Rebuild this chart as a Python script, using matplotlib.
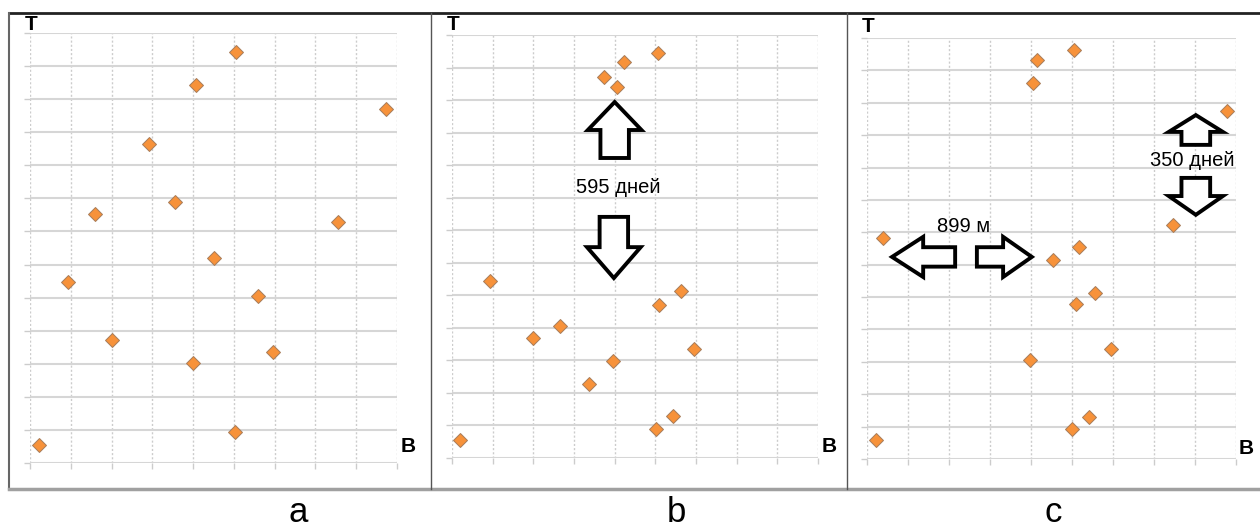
import matplotlib.pyplot as plt
from matplotlib.patches import Polygon
from matplotlib.lines import Line2D

plt.rcParams['font.family'] = ['Liberation Sans', 'DejaVu Sans']

# точки (x, y) в клетках сетки 9 x 13
a_x = [5.05, 4.07, 8.73, 2.92, 3.55, 1.59, 7.55, 4.51, 0.93, 5.59, 2.01, 5.96, 4.00, 5.02, 0.22]
a_y = [12.42, 11.43, 10.70, 9.64, 7.89, 7.53, 7.29, 6.20, 5.47, 5.05, 3.72, 3.36, 3.02, 0.94, 0.54]

b_x = [5.07, 4.23, 3.74, 4.06, 0.93, 5.63, 5.09, 2.66, 1.99, 5.95, 3.96, 3.37, 5.43, 5.02, 0.20]
b_y = [12.45, 12.17, 11.71, 11.40, 5.44, 5.13, 4.70, 4.06, 3.69, 3.35, 2.98, 2.27, 1.29, 0.89, 0.55]

c_x = [5.05, 4.15, 4.05, 8.78, 7.46, 0.39, 5.17, 4.54, 5.56, 5.10, 5.95, 3.98, 5.41, 5.00, 0.22]
c_y = [12.62, 12.31, 11.60, 10.75, 7.23, 6.83, 6.55, 6.15, 5.13, 4.79, 3.40, 3.06, 1.30, 0.93, 0.59]

panel_names = ['a', 'b', 'c']
axis_top = 'Т'
axis_right = 'В'

# стрелки: (направление, центр, хвост, основание головки, острие)
arrows_b = [('v', 4.0, 9.22, 10.08, 10.94), ('v', 3.98, 7.41, 6.48, 5.53)]
arrows_c = [('h', 6.24, 2.15, 1.37, 0.61), ('h', 6.24, 2.68, 3.32, 4.02),
            ('v', 8.02, 9.70, 10.10, 10.62), ('v', 8.02, 8.68, 8.12, 7.54)]

W, H = 1260, 530
fig = plt.figure(figsize=(12.6, 5.3), dpi=100)


def px(x, y):
    return x / W, 1 - y / H


def make_ax(left, right, top, bottom):
    ax = fig.add_axes([left / W, 1 - bottom / H, (right - left) / W, (bottom - top) / H])
    ax.set_xlim(0, 9)
    ax.set_ylim(0, 13)
    ax.set_xticks(range(10))
    ax.set_yticks(range(14))
    ax.grid(axis='y', color='#d6d6d6', lw=1.5, ls='-')
    ax.grid(axis='x', color='#cccccc', lw=1, ls=(0, (1.5, 1.5)))
    ax.set_axisbelow(True)
    for s in ax.spines.values():
        s.set_visible(False)
    ax.tick_params(length=4, width=1, color='#cccccc', labelleft=False, labelbottom=False)
    ax.set_facecolor('none')
    return ax


def block_arrow(ax, kind, c, tail, base, tip, shaft=0.35, head=0.66):
    if kind == 'v':
        sh, hd = shaft, head
        pts = [(c - sh, tail), (c - sh, base), (c - hd, base), (c, tip),
               (c + hd, base), (c + sh, base), (c + sh, tail)]
    else:
        sh, hd = 0.3, 0.62
        pts = [(tail, c - sh), (base, c - sh), (base, c - hd), (tip, c),
               (base, c + hd), (base, c + sh), (tail, c + sh)]
    ax.add_patch(Polygon(pts, closed=True, fc='white', ec='black', lw=2.8,
                         joinstyle='miter', clip_on=False, zorder=4))


def scatter(ax, xs, ys):
    ax.plot(xs, ys, ls='none', marker='D', ms=7.5, mfc='#f7923a', mec='#a67c5a',
            mew=0.7, clip_on=False, zorder=5)


ax_a = make_ax(30, 397, 33, 463)
ax_b = make_ax(452, 818, 35, 458)
ax_c = make_ax(867, 1236, 38, 459)

scatter(ax_a, a_x, a_y)
scatter(ax_b, b_x, b_y)
scatter(ax_c, c_x, c_y)

for a in arrows_b:
    block_arrow(ax_b, *a)
for a in arrows_c:
    block_arrow(ax_c, *a)

fig.text(*px(618, 188), '595 дней', fontsize=14.5, ha='center', va='center')
fig.text(*px(964, 227), '899 м', fontsize=14.5, ha='center', va='center')
fig.text(*px(1192, 161), '350 дней', fontsize=14.5, ha='center', va='center')

# подписи осей
for tx, ty, bx, by in [(31, 25, 408, 447), (453, 25, 829, 447), (868, 27, 1246, 448)]:
    fig.text(*px(tx, ty), axis_top, fontsize=15, fontweight='bold', ha='center', va='center')
    fig.text(*px(bx, by), axis_right, fontsize=15, fontweight='bold', ha='center', va='center')

for name, x in zip(panel_names, [298, 676, 1053]):
    fig.text(*px(x, 522), name, fontsize=25, ha='center', va='baseline')

# рамка
def fline(x0, y0, x1, y1, **kw):
    (a0, b0), (a1, b1) = px(x0, y0), px(x1, y1)
    fig.add_artist(Line2D([a0, a1], [b0, b1], transform=fig.transFigure, **kw))

fline(9, 13, 1260, 13, color='#222222', lw=2)
fline(9, 13, 9, 489, color='#666666', lw=1.5)
fline(9, 489, 1260, 489, color='#a0a0a0', lw=2.5)
fline(431, 13, 431, 489, color='#555555', lw=1)
fline(847, 13, 847, 489, color='#555555', lw=1)

fig.savefig('out.png', dpi=100)
